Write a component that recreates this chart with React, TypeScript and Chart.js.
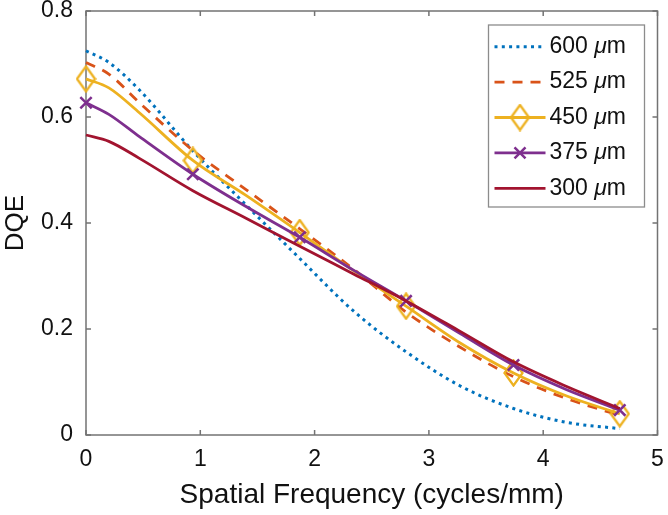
import { useEffect, useRef } from 'react'
import { Chart, registerables } from 'chart.js'

Chart.register(...registerables)

// spatial frequency samples (cycles/mm)
const freq = [0, 0.2, 0.467, 0.935, 1.4, 1.87, 2.34, 2.8, 3.27, 3.74, 4.2, 4.67]
// frequencies where the marked series show a marker
const markerFreq = [0, 0.935, 1.87, 2.8, 3.74, 4.67]

// DQE, one array per thickness
const dqe600 = [0.725, 0.703, 0.651, 0.536, 0.434, 0.333, 0.234, 0.157, 0.093, 0.05, 0.024, 0.012]
const dqe525 = [0.703, 0.681, 0.627, 0.537, 0.463, 0.389, 0.313, 0.232, 0.166, 0.11, 0.069, 0.037]
const dqe450 = [0.672, 0.655, 0.608, 0.518, 0.452, 0.382, 0.31, 0.243, 0.174, 0.117, 0.074, 0.04]
const dqe375 = [0.627, 0.605, 0.563, 0.492, 0.431, 0.373, 0.311, 0.253, 0.192, 0.132, 0.086, 0.047]
const dqe300 = [0.566, 0.554, 0.522, 0.461, 0.409, 0.356, 0.304, 0.253, 0.196, 0.138, 0.092, 0.05]

const thickness = ['600', '525', '450', '375', '300']
const xTicks = [0, 1, 2, 3, 4, 5]
const yTicks = [0, 0.2, 0.4, 0.6, 0.8]

const FONT = "'Liberation Sans', Arial, sans-serif"
const AXIS = '#737373'
const INK = '#111111'

function makeDiamond(color: string) {
  const c = document.createElement('canvas')
  c.width = 21
  c.height = 28
  const g = c.getContext('2d')!
  g.strokeStyle = color
  g.lineWidth = 2.3
  g.beginPath()
  g.moveTo(10.5, 1.5)
  g.lineTo(19.5, 14)
  g.lineTo(10.5, 26.5)
  g.lineTo(1.5, 14)
  g.closePath()
  g.stroke()
  return c
}

const boxPlugin = {
  id: 'matlabBox',
  beforeDatasetsDraw(chart: any) {
    const { ctx, chartArea: a, scales } = chart
    const len = 5
    ctx.save()
    ctx.strokeStyle = AXIS
    ctx.lineWidth = 1.5
    ctx.strokeRect(a.left, a.top, a.right - a.left, a.bottom - a.top)
    ctx.beginPath()
    for (const t of scales.x.ticks) {
      const px = scales.x.getPixelForValue(t.value)
      ctx.moveTo(px, a.bottom)
      ctx.lineTo(px, a.bottom - len)
      ctx.moveTo(px, a.top)
      ctx.lineTo(px, a.top + len)
    }
    for (const t of scales.y.ticks) {
      const py = scales.y.getPixelForValue(t.value)
      ctx.moveTo(a.left, py)
      ctx.lineTo(a.left + len, py)
      ctx.moveTo(a.right, py)
      ctx.lineTo(a.right - len, py)
    }
    ctx.stroke()
    ctx.restore()
  },
}

export default function App() {
  const chartRef = useRef<HTMLCanvasElement>(null)
  const chartInstance = useRef<Chart | null>(null)

  useEffect(() => {
    document.body.style.margin = '0'
    if (!chartRef.current) return
    if (chartInstance.current) chartInstance.current.destroy()
    const ctx = chartRef.current.getContext('2d')
    if (!ctx) return

    const diamond = makeDiamond('#EDB120')
    const markerAt = (r: number) => (c: any) => (markerFreq.includes(freq[c.dataIndex]) ? r : 0)
    const pts = (ys: number[]) => freq.map((x, i) => ({ x, y: ys[i] }))

    const markers = ['none', 'none', 'diamond', 'cross', 'none']

    const legendPlugin = {
      id: 'matlabLegend',
      afterDatasetsDraw(chart: any) {
        const { ctx: g, chartArea: a } = chart
        const w = 156
        const h = 182
        const left = a.right - 13 - w
        const top = a.top + 14
        g.save()
        g.fillStyle = '#ffffff'
        g.fillRect(left, top, w, h)
        g.strokeStyle = '#8c8c8c'
        g.lineWidth = 1.3
        g.strokeRect(left, top, w, h)
        chart.data.datasets.forEach((ds: any, i: number) => {
          const y = top + 21.7 + i * 35.4
          const x0 = left + 6
          const x1 = left + 57
          const mid = (x0 + x1) / 2
          g.save()
          g.strokeStyle = ds.borderColor
          g.lineWidth = ds.borderWidth
          g.lineCap = 'butt'
          g.setLineDash(ds.borderDash || [])
          g.beginPath()
          g.moveTo(x0, y)
          g.lineTo(x1, y)
          g.stroke()
          g.restore()
          if (markers[i] === 'diamond') {
            g.drawImage(diamond, mid - diamond.width / 2, y - diamond.height / 2)
          } else if (markers[i] === 'cross') {
            g.save()
            g.strokeStyle = ds.borderColor
            g.lineWidth = 2.5
            g.beginPath()
            g.moveTo(mid - 5.5, y - 5.5)
            g.lineTo(mid + 5.5, y + 5.5)
            g.moveTo(mid - 5.5, y + 5.5)
            g.lineTo(mid + 5.5, y - 5.5)
            g.stroke()
            g.restore()
          }
          g.fillStyle = INK
          g.textBaseline = 'middle'
          let tx = left + 61
          g.font = `23px ${FONT}`
          const a1 = thickness[i] + ' '
          g.fillText(a1, tx, y)
          tx += g.measureText(a1).width
          g.font = `italic 23px ${FONT}`
          g.fillText('\u03bc', tx, y)
          tx += g.measureText('\u03bc').width
          g.font = `23px ${FONT}`
          g.fillText('m', tx, y)
        })
        g.restore()
      },
    }

    const data = {
      datasets: [
        {
          label: thickness[0] + ' \u03bcm',
          data: pts(dqe600),
          borderColor: '#0072BD',
          borderWidth: 3,
          borderDash: [3, 4.3],
          pointRadius: 0,
          order: 4,
        },
        {
          label: thickness[1] + ' \u03bcm',
          data: pts(dqe525),
          borderColor: '#D95319',
          borderWidth: 2.8,
          borderDash: [10, 8],
          pointRadius: 0,
          order: 3,
        },
        {
          label: thickness[2] + ' \u03bcm',
          data: pts(dqe450),
          borderColor: '#EDB120',
          borderWidth: 2.8,
          pointStyle: diamond,
          pointRadius: markerAt(6),
          order: 2,
        },
        {
          label: thickness[3] + ' \u03bcm',
          data: pts(dqe375),
          borderColor: '#7E2F8E',
          borderWidth: 2.8,
          pointStyle: 'crossRot',
          pointRadius: markerAt(8),
          pointBorderWidth: 2.5,
          pointBorderColor: '#7E2F8E',
          order: 1,
        },
        {
          label: thickness[4] + ' \u03bcm',
          data: pts(dqe300),
          borderColor: '#A2142F',
          borderWidth: 2.8,
          pointRadius: 0,
          order: 0,
        },
      ],
    }

    const options: any = {
      responsive: false,
      animation: false,
      layout: { padding: { top: 11, right: 10, left: 0, bottom: 0 } },
      datasets: {
        line: {
          fill: false,
          cubicInterpolationMode: 'monotone',
          clip: false,
          pointHoverRadius: 0,
        },
      },
      plugins: {
        legend: { display: false },
        tooltip: { enabled: false },
      },
      scales: {
        x: {
          type: 'linear',
          min: 0,
          max: 5,
          afterBuildTicks: (s: any) => {
            s.ticks = xTicks.map((v) => ({ value: v }))
          },
          afterFit: (s: any) => {
            s.height = 80
            s.paddingLeft = 0
            s.paddingRight = 0
          },
          grid: { display: false, drawTicks: false },
          border: { display: false },
          ticks: {
            padding: 11,
            color: INK,
            font: { family: FONT, size: 23 },
            callback: (v: any) => String(v),
          },
          title: {
            display: true,
            text: 'Spatial Frequency (cycles/mm)',
            color: INK,
            font: { family: FONT, size: 28 },
            padding: { top: 0, bottom: 3 },
          },
        },
        y: {
          type: 'linear',
          min: 0,
          max: 0.8,
          afterBuildTicks: (s: any) => {
            s.ticks = yTicks.map((v) => ({ value: v }))
          },
          afterFit: (s: any) => {
            s.width = 86
            s.paddingTop = 0
            s.paddingBottom = 0
          },
          grid: { display: false, drawTicks: false },
          border: { display: false },
          ticks: {
            padding: 13,
            color: INK,
            font: { family: FONT, size: 23 },
            callback: (v: any) => String(Math.round(v * 10) / 10),
          },
          title: {
            display: true,
            text: 'DQE',
            color: INK,
            font: { family: FONT, size: 26 },
            padding: { top: 0, bottom: 0 },
          },
        },
      },
    }

    chartInstance.current = new Chart(ctx, {
      type: 'line',
      data,
      options,
      plugins: [boxPlugin, legendPlugin],
    })

    return () => {
      if (chartInstance.current) {
        chartInstance.current.destroy()
        chartInstance.current = null
      }
    }
  }, [])

  return (
    <div style={{ width: 668, height: 515, background: '#fff' }}>
      <canvas ref={chartRef} width={668} height={515} />
    </div>
  )
}
